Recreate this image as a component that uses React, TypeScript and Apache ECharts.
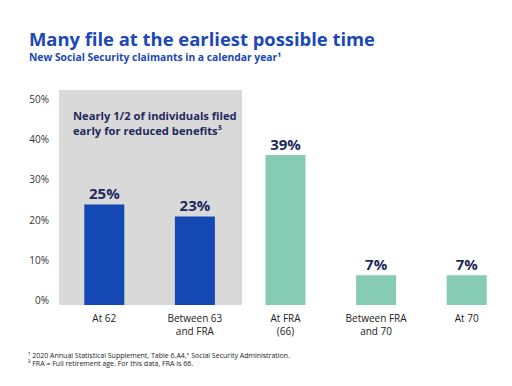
import React, { useEffect, useRef } from "react";
import * as echarts from "echarts";

const categories = ["At 62", "Between 63\nand FRA", "At FRA\n(66)", "Between FRA\nand 70", "At 70"];
const barValues = [25, 22, 37.3, 7.4, 7.4];
const valueLabels = ["25%", "23%", "39%", "7%", "7%"];
const barColors = ["#1448b3", "#1448b3", "#86cbb3", "#86cbb3", "#86cbb3"];
const yTicks = [0, 10, 20, 30, 40, 50];

const FONT = "Open Sans";

export default function App() {
  const ref = useRef<HTMLDivElement>(null);
  useEffect(() => {
    if (!ref.current) return;
    const chart = echarts.init(ref.current, null, { renderer: "svg" });
    chart.setOption({
      animation: false,
      backgroundColor: "#ffffff",
      grid: { left: 59, top: 104, width: 454, height: 201 },
      xAxis: {
        type: "category",
        data: categories,
        axisLine: { show: false },
        axisTick: { show: false },
        axisLabel: {
          fontFamily: FONT,
          fontSize: 10,
          fontWeight: 500,
          color: "#222222",
          lineHeight: 13,
          margin: 6,
        },
      },
      yAxis: {
        type: "value",
        min: yTicks[0],
        max: yTicks[yTicks.length - 1],
        interval: 10,
        splitLine: { show: false },
        axisLine: { show: false },
        axisTick: { show: false },
        axisLabel: {
          fontFamily: FONT,
          fontSize: 10,
          color: "#333333",
          margin: 10,
          verticalAlign: "bottom",
          formatter: (v: number) => v + "%",
        },
      },
      graphic: [
        {
          type: "rect",
          z: -10,
          shape: { x: 59, y: 90, width: 183, height: 215 },
          style: { fill: "#d9d9d9" },
        },
        {
          type: "text",
          x: 29,
          y: 38,
          style: {
            text: "Many file at the earliest possible time",
            fontFamily: FONT,
            fontWeight: "bold",
            fontSize: 18.4,
            lineHeight: 18,
            fill: "#1a48b5",
            verticalAlign: "middle",
          },
        },
        {
          type: "text",
          x: 29,
          y: 56.5,
          style: {
            text: "New Social Security claimants in a calendar year¹",
            fontFamily: FONT,
            fontWeight: "bold",
            fontSize: 10.3,
            lineHeight: 10,
            fill: "#1a48b5",
            verticalAlign: "middle",
          },
        },
        {
          type: "text",
          x: 73,
          y: 115,
          style: {
            text: "Nearly 1/2 of individuals filed",
            fontFamily: FONT,
            fontWeight: "bold",
            fontSize: 11.2,
            lineHeight: 11,
            fill: "#1f2a5c",
            verticalAlign: "middle",
          },
        },
        {
          type: "text",
          x: 73,
          y: 130,
          style: {
            text: "early for reduced benefits³",
            fontFamily: FONT,
            fontWeight: "bold",
            fontSize: 11.2,
            lineHeight: 11,
            fill: "#1f2a5c",
            verticalAlign: "middle",
          },
        },
        {
          type: "text",
          x: 28,
          y: 351,
          style: {
            text: "¹ 2020 Annual Statistical Supplement, Table 6.A4,\" Social Security Administration.\n³ FRA = Full retirement age. For this data, FRA is 66.",
            fontFamily: FONT,
            fontSize: 7,
            lineHeight: 8.5,
            fill: "#222222",
            verticalAlign: "top",
          },
        },
      ],
      series: [
        {
          type: "bar",
          barWidth: 40,
          data: barValues.map((v, i) => ({ value: v, itemStyle: { color: barColors[i] } })),
          label: {
            show: true,
            position: "top",
            distance: 4,
            fontFamily: FONT,
            fontWeight: "bold",
            fontSize: 15,
            color: "#1f2a5c",
            formatter: (p: any) => valueLabels[p.dataIndex],
          },
        },
      ],
    });
    return () => chart.dispose();
  }, []);
  return (
    <div
      ref={ref}
      style={{ position: "absolute", left: 0, top: 0, width: 512, height: 386 }}
    />
  );
}
